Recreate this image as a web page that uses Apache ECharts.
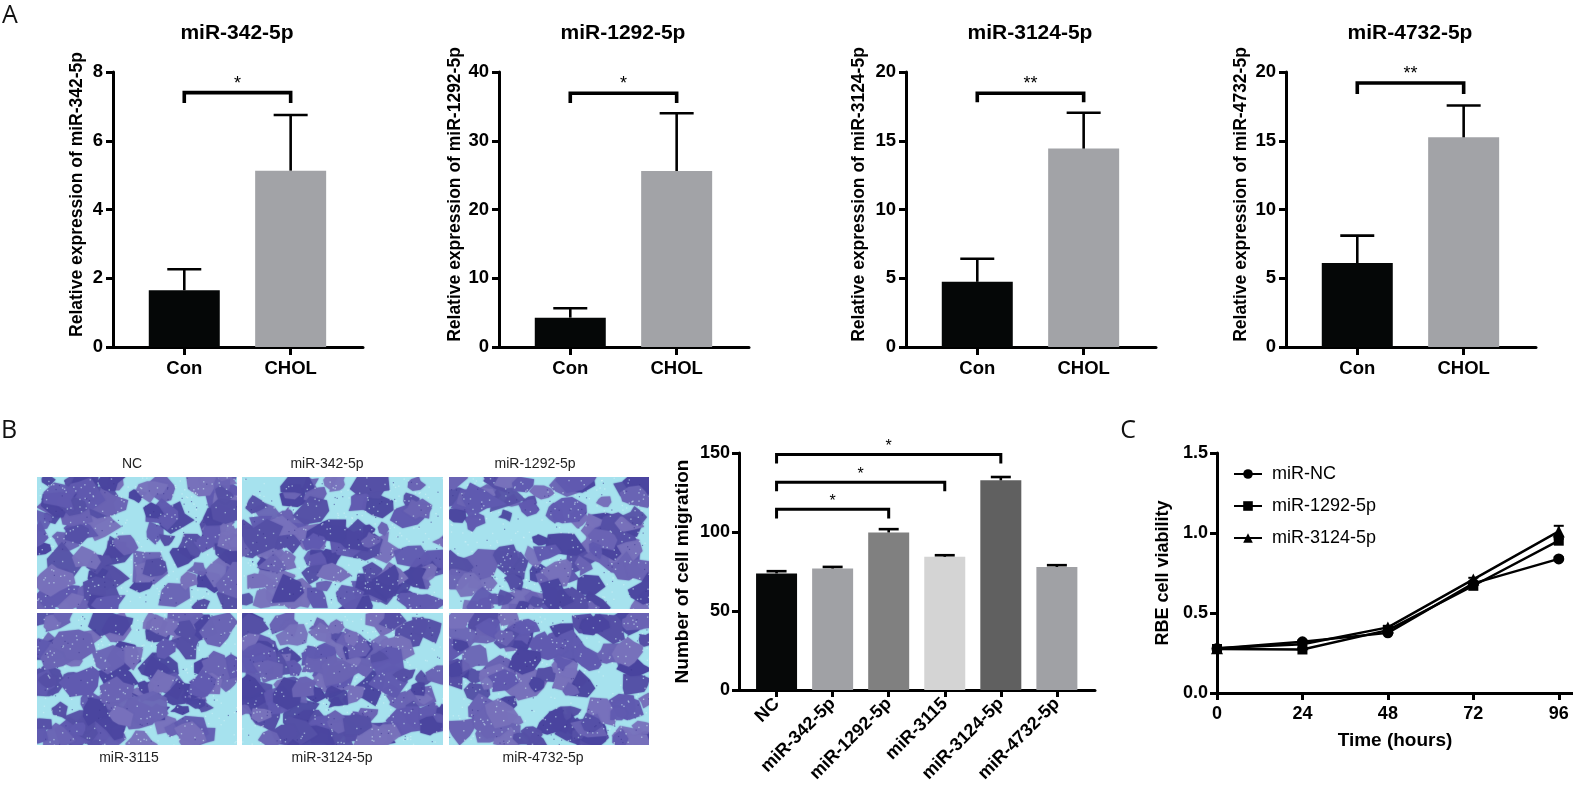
<!DOCTYPE html>
<html>
<head>
<meta charset="utf-8">
<title>miRNA expression, migration and viability</title>
<script src="https://cdn.jsdelivr.net/npm/echarts@6.0.0/dist/echarts.min.js"></script>
<style>
    html, body { margin: 0; padding: 0; background: #fff; }
    #main { width: 1573px; height: 791px; }
</style>
</head>
<body>
<div id="main"></div>
<script type="text/javascript">
    // ---- A: relative expression, Con vs CHOL ----
    var groupsA = ['Con', 'CHOL'];
    var mirsA = ['miR-342-5p', 'miR-1292-5p', 'miR-3124-5p', 'miR-4732-5p'];
    var mean342 = [1.65, 5.13], sd342 = [0.61, 1.62];
    var mean1292 = [4.27, 25.6], sd1292 = [1.37, 8.4];
    var mean3124 = [4.74, 14.43], sd3124 = [1.68, 2.61];
    var mean4732 = [6.11, 15.25], sd4732 = [1.99, 2.31];
    var yMaxA = [8, 40, 20, 20];
    var yStepA = [2, 10, 5, 5];
    var starsA = ['*', '*', '**', '**'];
    var bracketTopA = [7.4, 36.9, 18.45, 19.2];
    var bracketFootA = [7.1, 35.5, 17.8, 18.4];

    // ---- B: transwell migration ----
    var migCats = ['NC', 'miR-342-5p', 'miR-1292-5p', 'miR-3115', 'miR-3124-5p', 'miR-4732-5p'];
    var migMean = [73.8, 76.9, 99.7, 84.3, 132.7, 77.9];
    var migSd = [1.4, 1.0, 2.1, 1.0, 2.1, 1.1];
    var migStars = ['*', '*', '*'];
    var migPairs = [[0, 2], [0, 3], [0, 4]];
    var migBracketTop = [114.4, 131.5, 149];
    var migBracketFoot = [108.5, 125.8, 143.3];
    var photoTop = ['NC', 'miR-342-5p', 'miR-1292-5p'];
    var photoBottom = ['miR-3115', 'miR-3124-5p', 'miR-4732-5p'];

    // ---- C: CCK-8 viability ----
    var hours = [0, 24, 48, 72, 96];
    var viaNC = [0.278, 0.32, 0.376, 0.685, 0.838];
    var via1292 = [0.275, 0.272, 0.393, 0.67, 0.952];
    var via3124 = [0.28, 0.305, 0.41, 0.71, 1.01];
    var errNC = [0.005, 0.008, 0.01, 0.01, 0.01];
    var err1292 = [0.005, 0.008, 0.01, 0.01, 0.012];
    var err3124 = [0.005, 0.008, 0.01, 0.01, 0.035];

    var FONT = '"Liberation Sans", Arial, Helvetica, sans-serif';
    var myChart = echarts.init(document.getElementById('main'));

    function axisBase(lw) {
        return {
            axisLine: { show: true, onZero: false, lineStyle: { color: '#000', width: lw } },
            axisTick: { show: true, length: 7, lineStyle: { color: '#000', width: lw } },
            splitLine: { show: false }
        };
    }

    function tickLabel(size) {
        return { color: '#000', fontFamily: FONT, fontWeight: 'bold', fontSize: size };
    }

    function errorSeries(idx, xs, means, sds, capW, lw) {
        return {
            type: 'custom', xAxisIndex: idx, yAxisIndex: idx, z: 4, silent: true,
            data: means.map(function (m, k) { return [xs[k], m, m + sds[k]]; }),
            encode: { x: 0, y: [1, 2] },
            renderItem: function (params, api) {
                var base = api.coord([api.value(0), api.value(1)]);
                var top = api.coord([api.value(0), api.value(2)]);
                var st = { stroke: '#000', lineWidth: lw };
                return {
                    type: 'group', children: [
                        { type: 'line', shape: { x1: base[0], y1: base[1], x2: top[0], y2: top[1] }, style: st },
                        { type: 'line', shape: { x1: top[0] - capW / 2, y1: top[1], x2: top[0] + capW / 2, y2: top[1] }, style: st }
                    ]
                };
            }
        };
    }

    function bracketSeries(idx, pairs, tops, feet, stars, lw, starSize, starOff) {
        return {
            type: 'custom', xAxisIndex: idx, yAxisIndex: idx, z: 5, silent: true,
            data: pairs.map(function (p, k) { return [p[0], p[1], tops[k], feet[k]]; }),
            renderItem: function (params, api) {
                var x1 = api.value(0), x2 = api.value(1), yt = api.value(2), yf = api.value(3);
                var a = api.coord([x1, yf]), b = api.coord([x1, yt]), c = api.coord([x2, yt]), d = api.coord([x2, yf]);
                return {
                    type: 'group', children: [
                        { type: 'polyline', shape: { points: [a, b, c, d] }, style: { stroke: '#000', lineWidth: lw, fill: null } },
                        { type: 'text', x: (b[0] + c[0]) / 2, y: b[1] - starOff,
                          style: { text: stars[params.dataIndex], fill: '#000', font: 'normal ' + starSize + 'px ' + FONT, align: 'center', verticalAlign: 'middle' } }
                    ]
                };
            }
        };
    }

    // deterministic stand-in texture for the stained-cell micrographs
    function cellTexture(seed, w, h, count) {
        var c = document.createElement('canvas');
        c.width = w * 2; c.height = h * 2;
        var g = c.getContext('2d');
        g.scale(2, 2);
        g.fillStyle = '#a6e2ee';
        g.fillRect(0, 0, w, h);
        var s = seed;
        function next() { s = (s * 48271) % 2147483647; return s / 2147483647; }
        var shades = ['#5550a6', '#605ab0', '#4a459f', '#6a64b4', '#7771bb'];
        for (var i = 0; i < count; i++) {
            var cx = next() * w, cy = next() * h, r = 6 + next() * 11;
            var n = 6 + Math.floor(next() * 4);
            g.globalAlpha = 0.75 + next() * 0.25;
            g.fillStyle = shades[i % shades.length];
            g.shadowColor = shades[i % shades.length];
            g.shadowBlur = 3;
            g.beginPath();
            for (var k = 0; k < n; k++) {
                var ang = k / n * Math.PI * 2 + next() * 0.5;
                var rr = r * (0.55 + next() * 0.7);
                var px = cx + Math.cos(ang) * rr * 1.25, py = cy + Math.sin(ang) * rr;
                if (k) { g.lineTo(px, py); } else { g.moveTo(px, py); }
            }
            g.closePath();
            g.fill();
        }
        g.shadowBlur = 0;
        g.globalAlpha = 0.55;
        g.fillStyle = '#d2f3f8';
        for (var j = 0; j < 260; j++) { g.fillRect(next() * w, next() * h, 1.4, 1.4); }
        g.fillStyle = '#3c3790';
        for (var q = 0; q < 90; q++) { g.fillRect(next() * w, next() * h, 1.2, 1.2); }
        g.globalAlpha = 1;
        return c;
    }

    var option = {
        animation: false,
        backgroundColor: '#fff',
        grid: [], xAxis: [], yAxis: [], series: [],
        graphic: []
    };

    // ---- panel A ----
    var meansA = [mean342, mean1292, mean3124, mean4732];
    var sdsA = [sd342, sd1292, sd3124, sd4732];
    var leftsA = [113, 499, 906, 1286];
    var nameGapA = [27, 35, 38, 36];
    for (var i = 0; i < 4; i++) {
        option.grid.push({ left: leftsA[i], top: 72, width: 250, height: 275, outerBoundsMode: 'none' });
        option.xAxis.push(Object.assign(axisBase(3), {
            gridIndex: i, type: 'value', min: -0.67, max: 1.68,
            axisTick: { show: true, customValues: [0, 1], length: 8, lineStyle: { color: '#000', width: 3 } },
            axisLabel: Object.assign(tickLabel(18.5), {
                customValues: [0, 1], margin: 12,
                formatter: function (v) { return groupsA[Math.round(v)]; }
            })
        }));
        option.yAxis.push(Object.assign(axisBase(3), {
            gridIndex: i, type: 'value', min: 0, max: yMaxA[i], interval: yStepA[i],
            name: 'Relative expression of ' + mirsA[i],
            nameLocation: 'middle', nameRotate: 90, nameGap: nameGapA[i],
            nameTextStyle: { color: '#000', fontFamily: FONT, fontWeight: 'bold', fontSize: 17.5, padding: [0, 0, 0, 30] },
            axisLabel: Object.assign(tickLabel(18.5), { margin: 10 })
        }));
        option.series.push({
            type: 'bar', xAxisIndex: i, yAxisIndex: i, barWidth: 71, silent: true,
            data: meansA[i].map(function (v, k) {
                return { value: [k, v], itemStyle: { color: k === 0 ? '#050707' : '#a2a3a7' } };
            })
        });
        option.series.push(errorSeries(i, [0, 1], meansA[i], sdsA[i], 34, 2.6));
        option.series.push(bracketSeries(i, [[0, 1]], [bracketTopA[i]], [bracketFootA[i]], [starsA[i]], 3.6, 18, 9));
        option.graphic.push({
            type: 'text', x: leftsA[i] + 124, y: 33,
            style: { text: mirsA[i], fill: '#000', font: 'bold 21px ' + FONT, align: 'center', verticalAlign: 'middle' }
        });
    }

    // ---- panel B: migration bars ----
    var migColors = ['#060808', '#a0a1a5', '#808080', '#d4d4d4', '#606060', '#a0a1a5'];
    option.grid.push({ left: 739, top: 453, width: 356, height: 237, outerBoundsMode: 'none' });
    option.xAxis.push(Object.assign(axisBase(3), {
        gridIndex: 4, type: 'value', min: -0.67, max: 5.68,
        axisTick: { show: true, customValues: [0, 1, 2, 3, 4, 5], length: 7, lineStyle: { color: '#000', width: 3 } },
        axisLabel: Object.assign(tickLabel(18), {
            customValues: [0, 1, 2, 3, 4, 5], rotate: 45, margin: 11,
            formatter: function (v) { return migCats[Math.round(v)]; }
        })
    }));
    option.yAxis.push(Object.assign(axisBase(3), {
        gridIndex: 4, type: 'value', min: 0, max: 150, interval: 50,
        name: 'Number of cell migration', nameLocation: 'middle', nameRotate: 90, nameGap: 47,
        nameTextStyle: { color: '#000', fontFamily: FONT, fontWeight: 'bold', fontSize: 19 },
        axisLabel: Object.assign(tickLabel(18), { margin: 9 })
    }));
    option.series.push({
        type: 'bar', xAxisIndex: 4, yAxisIndex: 4, barWidth: 41, silent: true,
        data: migMean.map(function (v, k) { return { value: [k, v], itemStyle: { color: migColors[k] } }; })
    });
    option.series.push(errorSeries(4, [0, 1, 2, 3, 4, 5], migMean, migSd, 20, 2.6));
    option.series.push(bracketSeries(4, migPairs, migBracketTop, migBracketFoot, migStars, 3, 16, 8));

    // ---- panel C: viability lines ----
    option.grid.push({ left: 1217, top: 453, width: 356, height: 240, outerBoundsMode: 'none' });
    option.xAxis.push(Object.assign(axisBase(3), {
        gridIndex: 5, type: 'value', min: 0, max: 100,
        axisTick: { show: true, customValues: hours, length: 7, lineStyle: { color: '#000', width: 3 } },
        axisLabel: Object.assign(tickLabel(18), { customValues: hours, margin: 12 }),
        name: 'Time (hours)', nameLocation: 'middle', nameGap: 38,
        nameTextStyle: { color: '#000', fontFamily: FONT, fontWeight: 'bold', fontSize: 19 }
    }));
    option.yAxis.push(Object.assign(axisBase(3), {
        gridIndex: 5, type: 'value', min: 0, max: 1.5, interval: 0.5,
        name: 'RBE cell viability', nameLocation: 'middle', nameRotate: 90, nameGap: 45,
        nameTextStyle: { color: '#000', fontFamily: FONT, fontWeight: 'bold', fontSize: 18 },
        axisLabel: Object.assign(tickLabel(18), { margin: 9, formatter: function (v) { return v.toFixed(1); } })
    }));
    var lineSets = [
        { name: 'miR-NC', data: viaNC, err: errNC, symbol: 'circle', size: 11 },
        { name: 'miR-1292-5p', data: via1292, err: err1292, symbol: 'rect', size: 10 },
        { name: 'miR-3124-5p', data: via3124, err: err3124, symbol: 'triangle', size: 12 }
    ];
    lineSets.forEach(function (ls) {
        option.series.push(errorSeries(5, hours, ls.data, ls.err, 10, 2));
        option.series.push({
            type: 'line', name: ls.name, xAxisIndex: 5, yAxisIndex: 5,
            symbol: ls.symbol, symbolSize: ls.size, showAllSymbol: true,
            lineStyle: { color: '#000', width: 2.4 },
            itemStyle: { color: '#000', borderWidth: 0 },
            data: hours.map(function (h, k) { return [h, ls.data[k]]; })
        });
    });
    option.legend = {
        data: lineSets.map(function (ls) { return ls.name; }),
        orient: 'vertical', left: 1228, top: 460,
        itemWidth: 28, itemHeight: 12, itemGap: 14,
        textStyle: { color: '#000', fontFamily: FONT, fontSize: 18, lineHeight: 18, padding: [0, 0, 0, 5] }
    };

    // ---- panel letters ----
    [['A', 10, 16], ['B', 9, 431], ['C', 1128, 431]].forEach(function (p) {
        option.graphic.push({
            type: 'text', x: p[1], y: p[2],
            style: { text: p[0], fill: '#111', font: 'normal 25px "Open Sans", ' + FONT, align: 'center', verticalAlign: 'middle' }
        });
    });

    // ---- micrograph tiles ----
    var tileX = [37, 242, 449];
    var tileW = [200, 201, 200];
    var tileY = [477, 613];
    var tileH = [132, 132];
    var tileCount = [[95, 95, 92], [100, 115, 98]];
    var topLabelX = [132, 327, 535];
    var bottomLabelX = [129, 332, 543];
    for (var r = 0; r < 2; r++) {
        for (var c = 0; c < 3; c++) {
            option.graphic.push({
                type: 'image', x: tileX[c], y: tileY[r],
                style: { image: cellTexture(1234 + r * 977 + c * 313, tileW[c], tileH[r], tileCount[r][c]), width: tileW[c], height: tileH[r] }
            });
        }
    }
    for (var t = 0; t < 3; t++) {
        option.graphic.push({
            type: 'text', x: topLabelX[t], y: 464,
            style: { text: photoTop[t], fill: '#222', font: 'normal 14px ' + FONT, align: 'center', verticalAlign: 'middle' }
        });
        option.graphic.push({
            type: 'text', x: bottomLabelX[t], y: 758,
            style: { text: photoBottom[t], fill: '#222', font: 'normal 14px ' + FONT, align: 'center', verticalAlign: 'middle' }
        });
    }

    myChart.setOption(option);
    window.onresize = myChart.resize;
</script>
</body>
</html>
